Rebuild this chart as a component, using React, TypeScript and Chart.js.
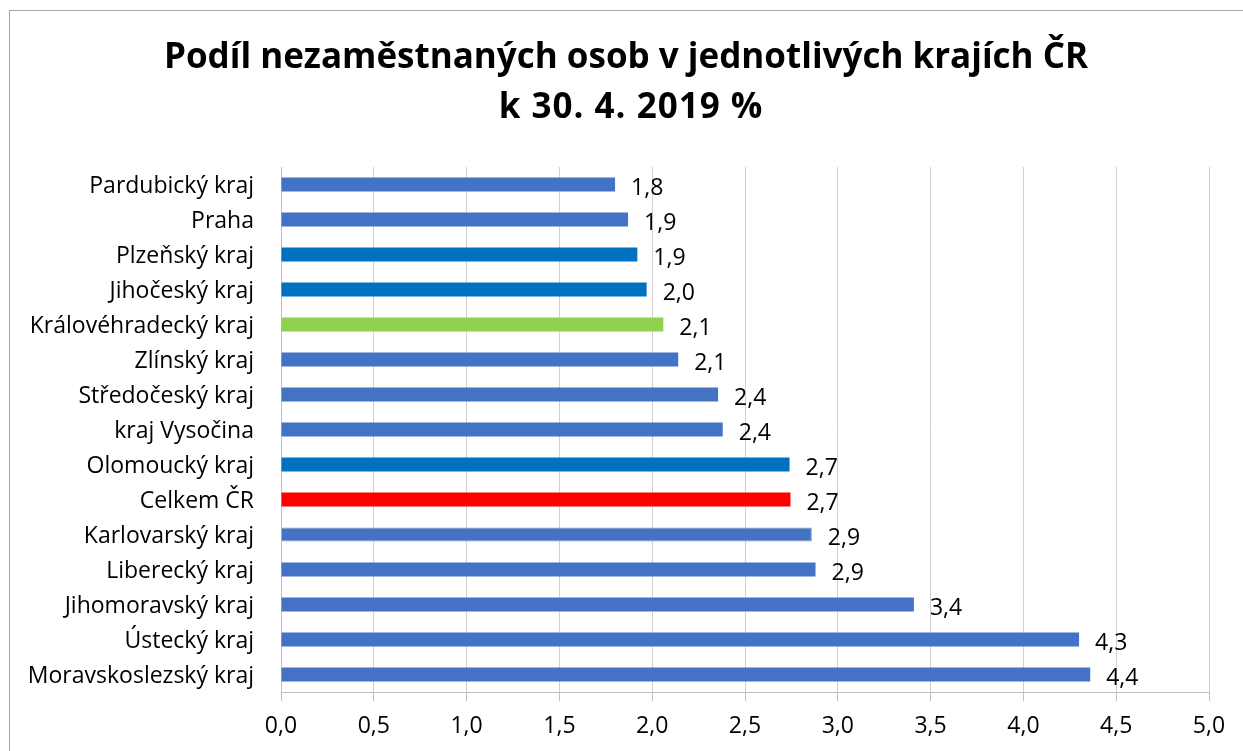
import React, { useEffect, useRef } from "react";
import { Chart, registerables } from "chart.js";

Chart.register(...registerables);

const titleLines = [
  "Podíl nezaměstnaných osob v jednotlivých krajích ČR",
  "k 30. 4. 2019 %",
];

const categories = [
  "Pardubický kraj",
  "Praha",
  "Plzeňský kraj",
  "Jihočeský kraj",
  "Královéhradecký kraj",
  "Zlínský kraj",
  "Středočeský kraj",
  "kraj Vysočina",
  "Olomoucký kraj",
  "Celkem ČR",
  "Karlovarský kraj",
  "Liberecký kraj",
  "Jihomoravský kraj",
  "Ústecký kraj",
  "Moravskoslezský kraj",
];

const values = [1.8, 1.87, 1.92, 1.97, 2.06, 2.14, 2.355, 2.38, 2.74, 2.745, 2.86, 2.88, 3.41, 4.3, 4.36];

const barColors = [
  "#4472C4",
  "#4472C4",
  "#0070C0",
  "#0070C0",
  "#92D050",
  "#4472C4",
  "#4472C4",
  "#4472C4",
  "#0070C0",
  "#FF0000",
  "#4472C4",
  "#4472C4",
  "#4472C4",
  "#4472C4",
  "#4472C4",
];

const barBorderWidths = [0, 0, 0, 0, 0, 0, 0, 0, 0, 0, 1, 0, 0, 0, 0];

const xMin = 0;
const xMax = 5;
const xStep = 0.5;

const FONT = '"Open Sans", "DejaVu Sans", sans-serif';

const fmt = (v: number) => v.toFixed(1).replace(".", ",");

const titlePlugin = {
  id: "twoLineTitle",
  beforeDraw(chart: any) {
    const ctx = chart.ctx;
    ctx.save();
    ctx.font = `bold 35px ${FONT}`;
    ctx.fillStyle = "#000000";
    ctx.textAlign = "center";
    ctx.textBaseline = "alphabetic";
    ctx.fillText(titleLines[0], 626, 68);
    try {
      (ctx as any).letterSpacing = "1px";
    } catch (e) {}
    ctx.fillText(titleLines[1], 631, 118);
    ctx.restore();
  },
};

const valueLabelPlugin = {
  id: "valueLabels",
  afterDatasetsDraw(chart: any) {
    const ctx = chart.ctx;
    const meta = chart.getDatasetMeta(0);
    ctx.save();
    ctx.font = `23px ${FONT}`;
    ctx.fillStyle = "#000000";
    ctx.textAlign = "left";
    ctx.textBaseline = "middle";
    meta.data.forEach((bar: any, i: number) => {
      ctx.fillText(fmt(values[i]), bar.x + 16, bar.y + 4);
    });
    ctx.restore();
  },
};

export default function App() {
  const canvasRef = useRef<HTMLCanvasElement | null>(null);

  useEffect(() => {
    let chart: Chart | null = null;
    let cancelled = false;
    const make = () => {
      if (cancelled || !canvasRef.current) return;
      chart = new Chart(canvasRef.current, {
        type: "bar",
        data: {
          labels: categories,
          datasets: [
            {
              data: values,
              backgroundColor: barColors,
              borderColor: "#8497B0",
              borderWidth: barBorderWidths,
              barPercentage: 0.4,
              categoryPercentage: 1,
            },
          ],
        },
        options: {
          indexAxis: "y",
          responsive: false,
          animation: false,
          devicePixelRatio: 1,
          layout: { padding: { top: 167, right: 34, bottom: 0, left: 0 } },
          plugins: {
            legend: { display: false },
            title: { display: false },
            tooltip: { enabled: false },
          },
          scales: {
            x: {
              min: xMin,
              max: xMax,
              ticks: {
                stepSize: xStep,
                callback: (v: any) => fmt(Number(v)),
                font: { family: FONT, size: 23 },
                color: "#000000",
                padding: 12,
                maxRotation: 0,
              },
              grid: {
                color: "#D0D0D0",
                tickColor: "#BFBFBF",
                tickLength: 9,
                lineWidth: 1,
              },
              border: { color: "#BFBFBF", width: 1 },
              afterFit: (scale: any) => {
                scale.height = 59;
              },
            },
            y: {
              ticks: {
                font: { family: FONT, size: 23 },
                color: "#000000",
                padding: 27,
                labelOffset: 2,
              },
              grid: { display: false, drawTicks: false },
              border: { color: "#BFBFBF", width: 1 },
              afterFit: (scale: any) => {
                scale.width = 281;
              },
            },
          },
        },
        plugins: [titlePlugin, valueLabelPlugin],
      } as any);
    };
    const fonts: any = (document as any).fonts;
    if (fonts && fonts.load) {
      Promise.all([
        fonts.load(`23px "Open Sans"`),
        fonts.load(`bold 35px "Open Sans"`),
      ])
        .catch(() => null)
        .then(make);
    } else {
      make();
    }
    return () => {
      cancelled = true;
      if (chart) chart.destroy();
    };
  }, []);

  return (
    <div
      style={{
        position: "fixed",
        left: 0,
        top: 0,
        width: 1243,
        height: 751,
        overflow: "hidden",
        background: "#ffffff",
      }}
    >
      <div
        style={{
          position: "absolute",
          left: 9,
          top: 10,
          width: 1300,
          height: 800,
          border: "1px solid #A6A6A6",
        }}
      />
      <canvas
        ref={canvasRef}
        width={1243}
        height={751}
        style={{ position: "absolute", left: 0, top: 0, display: "block" }}
      />
    </div>
  );
}
